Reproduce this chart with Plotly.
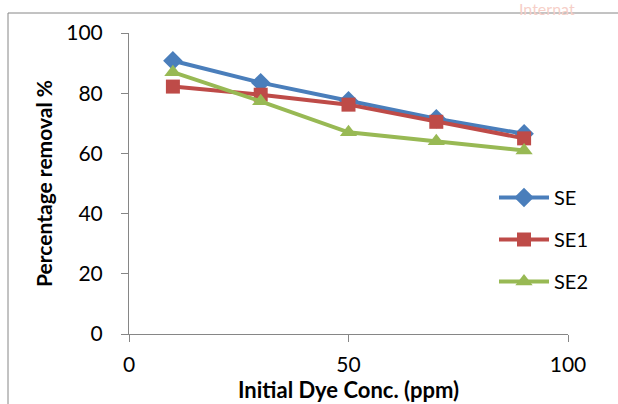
import plotly.graph_objects as go

x_conc = [10, 30, 50, 70, 90]
se = [90.8, 83.5, 77.5, 71.5, 66.5]
se1 = [82.2, 79.5, 76.2, 70.5, 65.0]
se2 = [87.0, 77.3, 67.0, 64.0, 61.0]
series_names = ["SE", "SE1", "SE2"]
colors = ["#4a7ebb", "#be4b48", "#98b954"]
symbols = ["diamond", "square", "triangle-up"]
x_title = "Initial Dye Conc. (ppm)"
y_title = "Percentage removal %"

FONT = "Lato, 'Open Sans', sans-serif"
fig = go.Figure()
for i, (name, vals) in enumerate(zip(series_names, [se, se1, se2])):
    fig.add_trace(go.Scatter(
        x=x_conc, y=vals, name=name, mode="lines+markers",
        line=dict(color=colors[i], width=4),
        marker=dict(symbol=symbols[i], size=15 if i != 1 else 14, color=colors[i]),
        legendgroup=name,
    ))

L, R, T, B = 129, 50, 33, 70
W, H = 618, 404
pw, ph = W - L - R, H - T - B

def px(xp):
    return (xp - L) / pw

def py(yp):
    return (H - B - yp) / ph

axis_common = dict(range=[0, 100], showgrid=False, showline=True,
                   linecolor="#868686", linewidth=1, ticks="outside",
                   ticklen=7, tickcolor="#868686", zeroline=False,
                   tickfont=dict(size=21))

fig.update_layout(
    width=W, height=H,
    margin=dict(l=L, r=R, t=T, b=B),
    paper_bgcolor="white", plot_bgcolor="white",
    font=dict(family=FONT, size=20, color="black"),
    showlegend=True,
    legend=dict(x=px(494), y=py(178), xanchor="left", yanchor="top",
                tracegroupgap=13, itemwidth=50, bgcolor="rgba(0,0,0,0)",
                font=dict(size=20)),
    xaxis=dict(**axis_common, tickvals=[0, 50, 100], ticklabelstandoff=5,
               automargin=False),
    yaxis=dict(**axis_common, tickvals=[0, 20, 40, 60, 80, 100],
               ticklabelstandoff=14, automargin=False,
               title=dict(text="<b>" + y_title + "</b>", standoff=7,
                          font=dict(size=21))),
    shapes=[dict(type="rect", xref="paper", yref="paper",
                 x0=px(8), x1=px(640), y0=py(420), y1=py(13),
                 line=dict(color="#868686", width=1), layer="below")],
    annotations=[
        dict(text="<b>" + x_title + "</b>", xref="paper", yref="paper",
             x=0.5, y=py(404), xanchor="center", yanchor="bottom",
             borderpad=0, showarrow=False, font=dict(size=22)),
        dict(text="Internat", xref="paper", yref="paper",
             x=px(517), y=py(-3), xanchor="left", yanchor="top",
             showarrow=False, font=dict(size=16, color="#f6cfc8")),
    ],
)

fig.write_html("out.html")
